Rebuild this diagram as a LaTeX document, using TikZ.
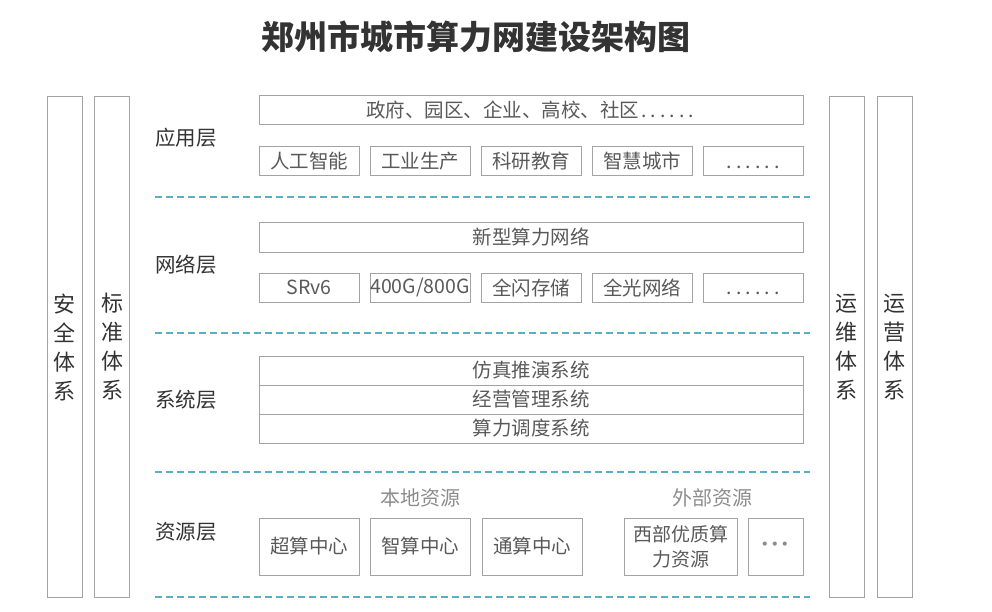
\documentclass[tikz,border=0pt]{standalone}
\usepackage{fontspec}
\setmainfont{Noto Sans CJK SC}
\usetikzlibrary{positioning}
\definecolor{boxgray}{HTML}{A3A3A3}
\definecolor{txtgray}{HTML}{595959}
\definecolor{lblgray}{HTML}{333333}
\definecolor{subgray}{HTML}{8C8C8C}
\definecolor{sepblue}{HTML}{5AAFC4}
\newcommand\wdot{\makebox[9.5pt]{.}}
\newcommand\mdot{\makebox[10pt]{·}}

\begin{document}
\begin{tikzpicture}[x=1pt,y=1pt,
  every node/.style={inner sep=0pt},
  itembox/.style={draw=boxgray, line width=1pt, text=txtgray, minimum width=100pt, minimum height=29pt, font=\fontsize{19.5}{24}\selectfont},
  widebox/.style={itembox, minimum width=544pt},
  resbox/.style={itembox, minimum height=57pt, align=center},
  sidebox/.style={draw=boxgray, line width=1pt, text=lblgray, minimum width=35pt, minimum height=500pt, align=center, font=\fontsize{22}{29}\selectfont},
  layer/.style={anchor=west, text=lblgray, font=\fontsize{20.5}{24}\selectfont},
  sublabel/.style={text=subgray, font=\fontsize{20}{24}\selectfont},
  sepline/.style={draw=sepblue, line width=1.2pt, dash pattern=on 7pt off 4pt}]
\useasboundingbox (0,0) rectangle (992,-612);
\node[text=lblgray, font=\bfseries\fontsize{33}{36}\selectfont] (title) at (476,-37) {郑州市城市算力网建设架构图};
\node[sidebox] (anquan) at (64.5,-347) {安\\全\\体\\系};
\node[sidebox] (biaozhun) at (112,-347) {标\\准\\体\\系};
\node[sidebox] (yunwei) at (846.5,-347) {运\\维\\体\\系};
\node[sidebox] (yunying) at (894.5,-347) {运\\营\\体\\系};
\node[layer] (app) at (155,-138) {应用层};
\node[widebox] (users) at (531,-110.5) {政府、园区、企业、高校、社区\wdot\wdot\wdot\wdot\wdot\wdot};
\node[itembox] (ai) at (309,-161) {人工智能};
\node[itembox] (industry) at (420,-161) {工业生产};
\node[itembox] (research) at (531,-161) {科研教育};
\node[itembox] (city) at (642,-161) {智慧城市};
\node[itembox] (appmore) at (753,-161) {\vphantom{人}\wdot\wdot\wdot\wdot\wdot\wdot};
\draw[sepline] (155,-197) -- (810,-197);
\node[layer] (net) at (155,-265) {网络层};
\node[widebox] (newnet) at (531,-237.5) {新型算力网络};
\node[itembox] (srv6) at (309,-287.5) {SRv6};
\node[itembox] (gbit) at (420,-287.5) {400G/800G};
\node[itembox] (flash) at (531,-287.5) {全闪存储};
\node[itembox] (optic) at (642,-287.5) {全光网络};
\node[itembox] (netmore) at (753,-287.5) {\vphantom{人}\wdot\wdot\wdot\wdot\wdot\wdot};
\draw[sepline] (155,-333) -- (810,-333);
\node[layer] (sys) at (155,-400) {系统层};
\node[widebox] (sim) at (531,-370.5) {仿真推演系统};
\node[widebox] (ops) at (531,-399.5) {经营管理系统};
\node[widebox] (sched) at (531,-428.5) {算力调度系统};
\draw[sepline] (155,-472) -- (810,-472);
\node[layer] (res) at (155,-532) {资源层};
\node[sublabel] (local) at (420,-498) {本地资源};
\node[sublabel] (remote) at (712,-498) {外部资源};
\node[resbox] (super) at (309,-546.5) {超算中心};
\node[resbox] (intel) at (420,-546.5) {智算中心};
\node[resbox] (general) at (532,-546.5) {通算中心};
\node[resbox, minimum width=113pt, font=\fontsize{19}{25}\selectfont] (west) at (680.5,-546.5) {西部优质算\\力资源};
\node[resbox, minimum width=55pt, text=subgray] (resmore) at (775.5,-546.5) {\mdot\mdot\mdot};
\draw[sepline] (155,-597) -- (810,-597);
\end{tikzpicture}
\end{document}
